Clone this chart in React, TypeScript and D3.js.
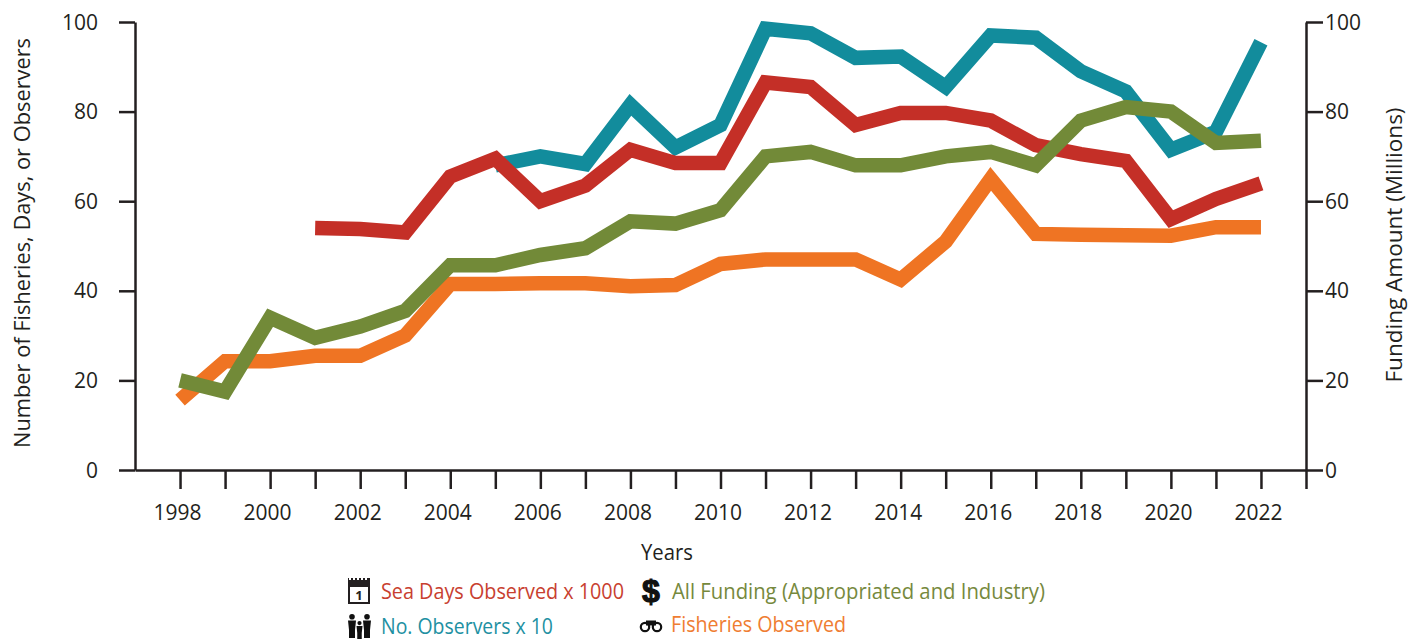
import { useEffect, useRef } from "react";
import * as d3 from "d3";

const years = d3.range(1998, 2023);
const fisheries = [15.6, 24.3, 24.3, 25.5, 25.5, 30, 41.5, 41.5, 41.7, 41.7, 41, 41.3, 46, 47, 47, 47, 42.5, 51, 65, 52.7, 52.5, 52.4, 52.3, 54.2, 54.2];
const funding = [20, 17.5, 34, 29.5, 32, 35.5, 45.7, 45.7, 48, 49.5, 55.5, 55, 58, 70, 71, 68, 68, 70, 71, 68, 78, 81, 80, 73, 73.5];
const seaDays = [null, null, null, 54, 53.8, 53, 65.5, 69.5, 60, 63.5, 71.5, 68.5, 68.5, 86.5, 85.5, 77, 79.7, 79.7, 78, 72.5, 70.5, 69, 56, 60.5, 64];
const observers = [null, null, null, null, null, null, null, 68, 70, 68.3, 81.5, 72, 77, 98.5, 97.5, 92, 92.3, 85.5, 97, 96.5, 89, 84.5, 71.5, 75.5, 95.5];
const yTicks = [0, 20, 40, 60, 80, 100];
const xLabels = [1998, 2000, 2002, 2004, 2006, 2008, 2010, 2012, 2014, 2016, 2018, 2020, 2022];

const width = 1408;
const height = 639;
const margin = { top: 22, right: 102, bottom: 169, left: 135 };
const font = "'Open Sans', sans-serif";
const ink = "#231f20";

export default function App() {
  const svgRef = useRef<SVGSVGElement>(null);

  useEffect(() => {
    const svg = d3.select(svgRef.current);
    svg.selectAll("*").remove();

    const x = d3.scaleLinear().domain([1997, 2023]).range([margin.left, width - margin.right]);
    const y = d3.scaleLinear().domain([0, 100]).range([height - margin.bottom, margin.top]);

    // lines, bottom one first
    const line = d3
      .line<number | null>()
      .defined((d) => d !== null)
      .x((d, i) => x(years[i]))
      .y((d) => y(d as number))
      .curve(d3.curveLinear);

    const series: [(number | null)[], string][] = [
      [observers, "#128c9c"],
      [seaDays, "#c42f27"],
      [fisheries, "#ef7423"],
      [funding, "#728a38"],
    ];
    series.forEach(([values, color]) => {
      svg.append("path")
        .attr("d", line(values))
        .attr("fill", "none")
        .attr("stroke", color)
        .attr("stroke-width", 14.5)
        .attr("stroke-linejoin", "miter");
    });

    // axes
    const axisStyle = (g: any) => {
      g.select(".domain").attr("stroke", ink).attr("stroke-width", 2.5);
      g.selectAll(".tick line").attr("stroke", ink).attr("stroke-width", 2.5);
      g.selectAll(".tick text")
        .attr("fill", ink)
        .attr("font-size", 22)
        .attr("font-family", font)
        .each(function (this: any) {
          // source font is narrower than Open Sans
          const n = this.textContent.length;
          if (n > 0) {
            d3.select(this).attr("textLength", n * 12).attr("lengthAdjust", "spacingAndGlyphs");
          }
        });
    };

    svg.append("g")
      .attr("transform", `translate(${margin.left},0)`)
      .call(d3.axisLeft(y).tickValues(yTicks).tickSize(16).tickSizeOuter(0).tickPadding(21))
      .call(axisStyle);

    svg.append("g")
      .attr("transform", `translate(${width - margin.right},0)`)
      .call(d3.axisRight(y).tickValues(yTicks).tickSize(17).tickSizeOuter(0).tickPadding(2))
      .call(axisStyle);

    const xAxis = svg.append("g")
      .attr("transform", `translate(0,${height - margin.bottom})`)
      .call(
        d3.axisBottom(x)
          .tickValues([...years, 2023])
          .tickSize(19)
          .tickSizeOuter(0)
          .tickPadding(15)
          .tickFormat((d) => (xLabels.includes(+d) ? String(d) : ""))
      )
      .call(axisStyle);
    xAxis.selectAll(".tick text").attr("dx", -3);

    const label = (text: string, tx: number, ty: number, color: string, size: number, len: number, rotate = 0) =>
      svg.append("text")
        .attr("transform", `translate(${tx},${ty}) rotate(${rotate})`)
        .attr("fill", color)
        .attr("font-size", size)
        .attr("font-family", font)
        .attr("textLength", len)
        .attr("lengthAdjust", "spacingAndGlyphs")
        .text(text);

    label("Number of Fisheries, Days, or Observers", 30, 243, ink, 22, 410, -90).attr("text-anchor", "middle");
    label("Funding Amount (Millions)", 1402, 245, ink, 22, 275, -90).attr("text-anchor", "middle");
    label("Years", 667, 560, ink, 21, 52).attr("text-anchor", "middle");

    // legend
    label("Sea Days Observed x 1000", 381, 599, "#c8402f", 21, 243);
    label("No. Observers x 10", 381, 633.5, "#2190a2", 21, 172);
    label("All Funding (Appropriated and Industry)", 672, 599, "#76893d", 21, 373);
    label("Fisheries Observed", 671, 632, "#ef7d32", 21, 175);

    // calendar icon
    const cal = svg.append("g").attr("transform", "translate(348,578)");
    cal.append("rect").attr("x", 1).attr("y", 1).attr("width", 20).attr("height", 24).attr("fill", "#fff").attr("stroke", ink).attr("stroke-width", 2);
    cal.append("rect").attr("x", 0).attr("y", 2).attr("width", 22).attr("height", 7).attr("fill", ink);
    cal.append("line").attr("x1", 1).attr("x2", 21).attr("y1", 1).attr("y2", 1).attr("stroke", "#fff").attr("stroke-width", 2).attr("stroke-dasharray", "2 2");
    cal.append("text").attr("x", 11).attr("y", 22).attr("text-anchor", "middle").attr("font-size", 13).attr("font-weight", 700).attr("font-family", font).attr("fill", ink).text("1");

    // people icon
    const people = svg.append("g").attr("transform", "translate(348,614)").attr("fill", "#111");
    [[4, 0, 1], [19, 0, 1], [11.5, 7, 0.75]].forEach(([px, py, s]) => {
      const p = people.append("g").attr("transform", `translate(${px},${py}) scale(${s})`);
      p.append("circle").attr("cx", 0).attr("cy", 2.8).attr("r", 2.8);
      p.append("path").attr("d", "M-4,6.5 H4 L3,16 V24 H-3 V16 Z");
    });

    // dollar icon
    svg.append("text").attr("x", 651).attr("y", 602).attr("text-anchor", "middle").attr("font-size", 32).attr("font-weight", 700).attr("font-family", "'Liberation Sans', sans-serif").attr("fill", "#111").attr("stroke", "#111").attr("stroke-width", 1.2).text("$");

    // binoculars icon
    const bino = svg.append("g").attr("transform", "translate(651,627)");
    [-6, 6].forEach((cx) => {
      bino.append("circle").attr("cx", cx).attr("cy", 0).attr("r", 4.2).attr("fill", "#fff").attr("stroke", "#111").attr("stroke-width", 2.2);
    });
    bino.append("rect").attr("x", -5).attr("y", -6.5).attr("width", 10).attr("height", 5).attr("fill", "#111");
  }, []);

  return (
    <svg
      ref={svgRef}
      width={width}
      height={height}
      style={{ position: "absolute", left: 0, top: 0, background: "#fff" }}
    />
  );
}
